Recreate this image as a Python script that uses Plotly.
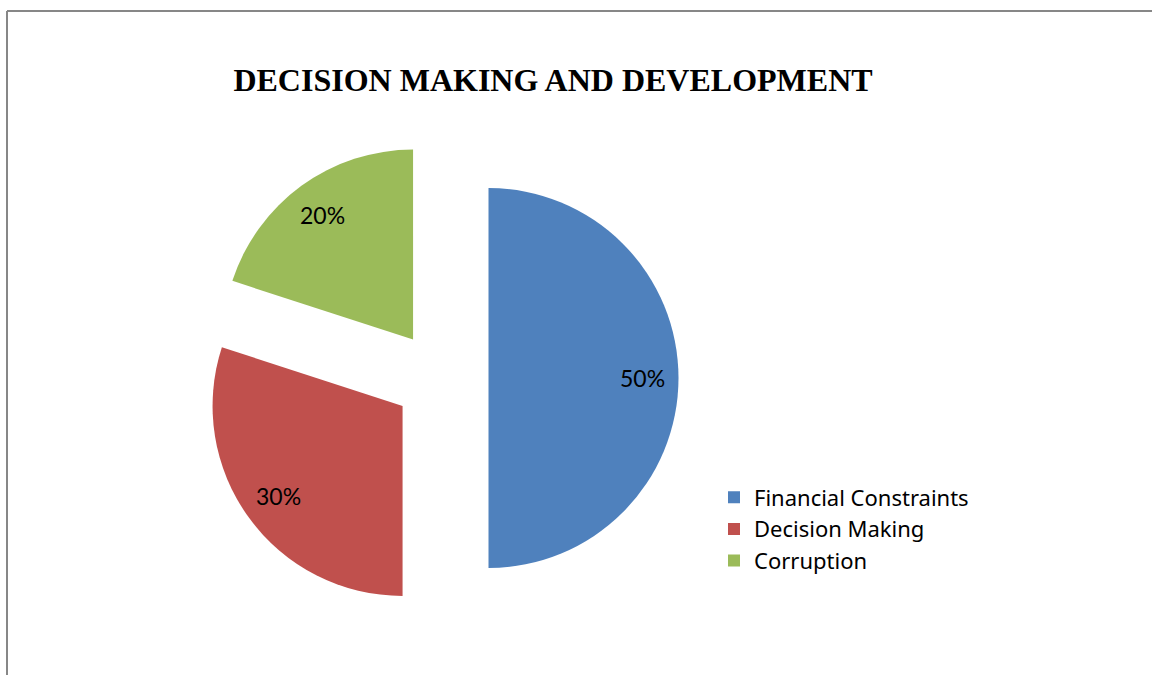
import math
import plotly.graph_objects as go

# Shares of the three factors
labels = ["Financial Constraints", "Decision Making", "Corruption"]
values = [50, 30, 20]
colors = ["#4F81BD", "#C0504D", "#9BBB59"]

W, H = 1152, 675
PULL = 0.25

# Pie domain in pixels (left, right, top, bottom)
DOM_L, DOM_R, DOM_T, DOM_B = 203.5, 678.5, 140.5, 615.5


def px_x(x):
    return x / W


def px_y(y):
    return 1 - y / H


fig = go.Figure(
    go.Pie(
        labels=labels,
        values=values,
        sort=False,
        direction="clockwise",
        rotation=0,
        pull=[PULL] * len(values),
        marker=dict(colors=colors, line=dict(width=0)),
        textinfo="none",
        hoverinfo="label+percent",
        domain=dict(x=[px_x(DOM_L), px_x(DOM_R)], y=[px_y(DOM_B), px_y(DOM_T)]),
    )
)

# Percentage labels placed along each slice's bisector
cx = (DOM_L + DOM_R) / 2
cy = (DOM_T + DOM_B) / 2
radius = min(DOM_R - DOM_L, DOM_B - DOM_T) / 2 / (1 + PULL)
total = sum(values)
annotations = []
cum = 0
for v in values:
    mid = 2 * math.pi * (cum + v / 2) / total
    cum += v
    dist = radius * (PULL + 0.81)
    x = cx + dist * math.sin(mid)
    y = cy - dist * math.cos(mid)
    annotations.append(
        dict(
            text=f"{round(100 * v / total)}%",
            x=px_x(x), y=px_y(y),
            xref="paper", yref="paper",
            xanchor="center", yanchor="middle",
            showarrow=False,
            font=dict(family="Lato", size=23, color="black"),
        )
    )

fig.update_layout(
    width=W,
    height=H,
    margin=dict(l=0, r=0, t=0, b=0),
    paper_bgcolor="white",
    plot_bgcolor="white",
    title=dict(
        text="<b>DECISION MAKING AND DEVELOPMENT</b>",
        font=dict(family="Liberation Serif", size=32, color="black"),
        x=px_x(553),
        xanchor="center",
        y=px_y(80),
        yanchor="middle",
    ),
    legend=dict(
        x=px_x(714),
        xanchor="left",
        y=px_y(476.5),
        yanchor="top",
        font=dict(family="Noto Sans", size=22, color="black"),
        bgcolor="rgba(0,0,0,0)",
    ),
    annotations=annotations,
    shapes=[
        dict(
            type="line", xref="paper", yref="paper",
            x0=px_x(7), y0=0, x1=px_x(7), y1=px_y(11),
            line=dict(color="#878787", width=2),
        ),
        dict(
            type="line", xref="paper", yref="paper",
            x0=px_x(7), y0=px_y(11), x1=1, y1=px_y(11),
            line=dict(color="#878787", width=2),
        ),
    ],
)

fig.write_html("out.html")
